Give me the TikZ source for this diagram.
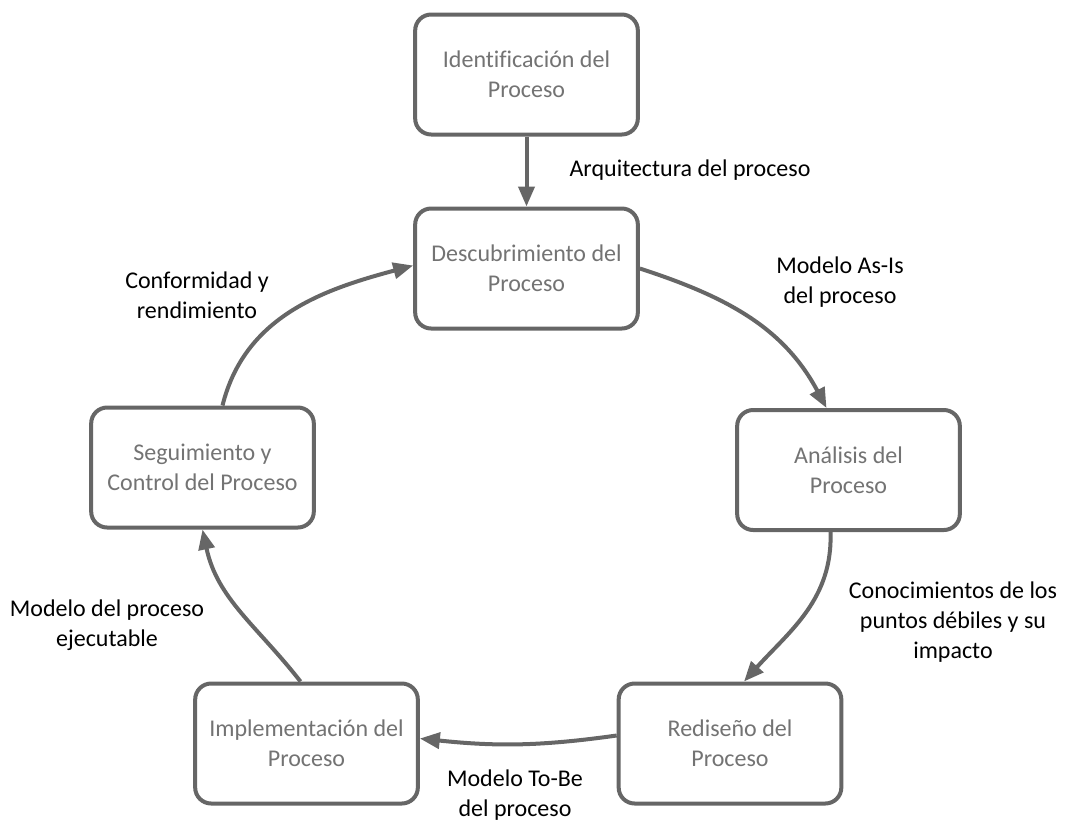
\documentclass[tikz,border=0pt]{standalone}
\usepackage{fontspec}
\setmainfont{Carlito}[Ligatures=NoCommon]
\usetikzlibrary{arrows.meta,calc}
\definecolor{edge}{HTML}{666666}
\definecolor{boxtext}{HTML}{737373}
\begin{document}
\begin{tikzpicture}[x=0.75pt,y=0.75pt,
  stage/.style={draw=edge,line width=3pt,rounded corners=12pt,
    minimum width=167pt,minimum height=90pt,align=center,
    text=boxtext,font=\fontsize{18}{22.5}\selectfont,fill=white},
  flow/.style={draw=edge,line width=3pt,
    -{Triangle[length=15pt,width=12pt]}},
  lbl/.style={align=center,text=black,font=\fontsize{18}{22.5}\selectfont}]
\useasboundingbox (0,0) rectangle (1066,-822);

% process stages
\node[stage] (ident) at (526.5,-74.5) {Identificación del\\Proceso};
\node[stage] (desc)  at (526.5,-268.5) {Descubrimiento del\\Proceso};
\node[stage] (anal)  at (848.5,-470) {Análisis del\\Proceso};
\node[stage] (redis) at (730,-743.5) {Rediseño del\\Proceso};
\node[stage] (impl)  at (306.5,-743.5) {Implementación del\\Proceso};
\node[stage] (segu)  at (202.5,-467.5) {Seguimiento y\\Control del Proceso};

% connectors around the cycle
\draw[flow] (ident.south) -- (desc.north);
\draw[flow] (desc.east) to[out=-18,in=118] ($(anal.north)+(-22,0)$);
\draw[flow] ($(anal.south)+(-18,0)$) to[out=-88,in=48] ($(redis.north)+(14,0)$);
\draw[flow] ($(redis.west)+(0,8)$) to[out=188,in=-6] ($(impl.east)+(0,5)$);
\draw[flow] ($(impl.north)+(-6,0)$) to[out=128,in=-78] (segu.south);
\draw[flow] ($(segu.north)+(20,0)$) to[out=76,in=195] ($(desc.west)+(0,3)$);

% connector labels
\node[lbl] (l1) at (690,-170) {Arquitectura del proceso};
\node[lbl] (l2) at (840,-282) {Modelo As-Is\\del proceso};
\node[lbl] (l3) at (953,-622) {Conocimientos de los\\puntos débiles y su\\impacto};
\node[lbl] (l4) at (515,-795) {Modelo To-Be\\del proceso};
\node[lbl] (l5) at (107,-625) {Modelo del proceso\\ejecutable};
\node[lbl] (l6) at (197,-295) {Conformidad y\\rendimiento};
\end{tikzpicture}
\end{document}
